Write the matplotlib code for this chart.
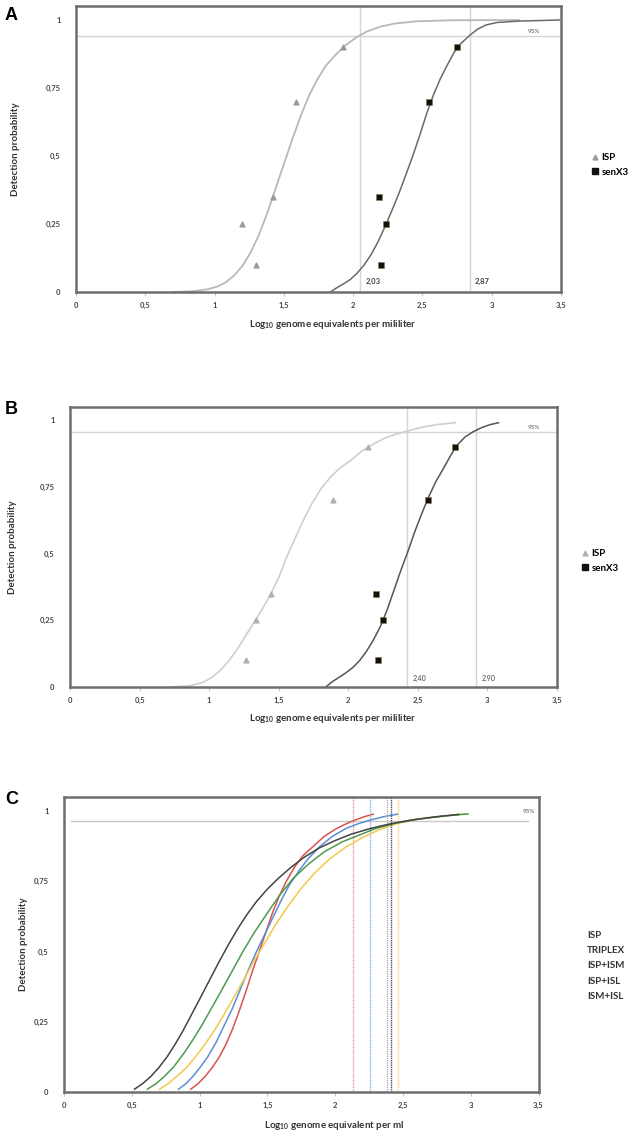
import matplotlib.pyplot as plt
from matplotlib.lines import Line2D

plt.rcParams['font.family'] = ['Lato', 'DejaVu Sans']
plt.rcParams['mathtext.fontset'] = 'custom'
plt.rcParams['mathtext.rm'] = 'Lato'
plt.rcParams['mathtext.bf'] = 'Lato:bold'

# ticks shared by the three panels
x_ticks = [0, 0.5, 1, 1.5, 2, 2.5, 3, 3.5]
x_tick_labels = ['0', '0,5', '1', '1,5', '2', '2,5', '3', '3,5']
y_ticks = [0, 0.25, 0.5, 0.75, 1]
y_tick_labels = ['0', '0,25', '0,5', '0,75', '1']

# Panel A - observed points
a_isp_pts_x = [1.20, 1.30, 1.42, 1.59, 1.93]
a_isp_pts_y = [0.25, 0.10, 0.35, 0.70, 0.90]
a_sen_pts_x = [2.20, 2.19, 2.24, 2.55, 2.75]
a_sen_pts_y = [0.10, 0.35, 0.25, 0.70, 0.90]
# Panel A - fitted curves
a_isp_curve_x = [0.70, 0.85, 0.95, 1.02, 1.08, 1.14, 1.20, 1.26, 1.32, 1.38, 1.44, 1.50, 1.56,
                 1.62, 1.68, 1.74, 1.80, 1.87, 1.94, 2.02, 2.10, 2.20, 2.30, 2.45, 2.70, 3.20]
a_isp_curve_y = [0.0, 0.003, 0.01, 0.02, 0.035, 0.06, 0.095, 0.145, 0.21, 0.29, 0.38, 0.47, 0.56,
                 0.645, 0.72, 0.78, 0.83, 0.87, 0.905, 0.935, 0.958, 0.976, 0.987, 0.995, 0.999, 1.0]
a_sen_curve_x = [1.836, 1.88, 1.93, 1.98, 2.03, 2.08, 2.13, 2.18, 2.23, 2.28, 2.33, 2.38, 2.43,
                 2.48, 2.53, 2.58, 2.63, 2.68, 2.73, 2.78, 2.84, 2.90, 2.96, 3.04, 3.20, 3.49]
a_sen_curve_y = [0.0, 0.015, 0.03, 0.046, 0.07, 0.10, 0.138, 0.185, 0.24, 0.30, 0.362, 0.43, 0.50,
                 0.575, 0.655, 0.725, 0.785, 0.835, 0.882, 0.915, 0.943, 0.967, 0.982, 0.991,
                 0.996, 1.0]
a_lod = [2.05, 2.84]
a_lod_labels = ['2,03', '2,87']
a_line95 = 0.94

# Panel B
b_isp_pts_x = [1.265, 1.337, 1.445, 1.888, 2.14]
b_isp_pts_y = [0.10, 0.25, 0.35, 0.70, 0.90]
b_sen_pts_x = [2.21, 2.20, 2.25, 2.57, 2.77]
b_sen_pts_y = [0.10, 0.35, 0.25, 0.70, 0.90]
b_isp_curve_x = [0.73, 0.85, 0.95, 1.02, 1.08, 1.14, 1.20, 1.26, 1.32, 1.38, 1.44, 1.50, 1.56,
                 1.62, 1.68, 1.74, 1.80, 1.87, 1.94, 2.02, 2.10, 2.18, 2.26, 2.34, 2.42, 2.52,
                 2.64, 2.77]
b_isp_curve_y = [0.0, 0.004, 0.016, 0.036, 0.062, 0.097, 0.14, 0.19, 0.24, 0.29, 0.345, 0.41, 0.49,
                 0.56, 0.628, 0.688, 0.74, 0.785, 0.82, 0.85, 0.885, 0.91, 0.932, 0.947, 0.958,
                 0.972, 0.983, 0.99]
b_sen_curve_x = [1.838, 1.88, 1.93, 1.98, 2.03, 2.08, 2.13, 2.18, 2.23, 2.28, 2.33, 2.38, 2.43,
                 2.48, 2.53, 2.58, 2.63, 2.68, 2.73, 2.78, 2.84, 2.90, 2.96, 3.02, 3.08]
b_sen_curve_y = [0.0, 0.018, 0.035, 0.052, 0.072, 0.098, 0.133, 0.176, 0.226, 0.29, 0.365, 0.44,
                 0.51, 0.585, 0.652, 0.715, 0.77, 0.815, 0.862, 0.905, 0.937, 0.957, 0.972,
                 0.983, 0.99]
b_lod = [2.42, 2.92]
b_lod_labels = ['2,40', '2,90']
b_line95 = 0.955

# Panel C - five fitted curves
c_names = ['ISP', 'TRIPLEX', 'ISP+ISM', 'ISP+ISL', 'ISM+ISL']
c_red_x = [0.935, 0.99, 1.04, 1.09, 1.14, 1.19, 1.24, 1.29, 1.34, 1.39, 1.44, 1.49, 1.54, 1.59,
           1.64, 1.70, 1.76, 1.84, 1.92, 2.00, 2.07, 2.135, 2.21, 2.28]
c_red_y = [0.01, 0.03, 0.055, 0.085, 0.12, 0.165, 0.22, 0.285, 0.355, 0.43, 0.50, 0.57, 0.64, 0.70,
           0.75, 0.80, 0.84, 0.875, 0.91, 0.935, 0.952, 0.966, 0.979, 0.989]
c_blue_x = [0.845, 0.90, 0.95, 1.00, 1.06, 1.12, 1.18, 1.24, 1.30, 1.36, 1.42, 1.48, 1.54, 1.60,
            1.66, 1.73, 1.80, 1.89, 1.98, 2.08, 2.17, 2.26, 2.36, 2.46]
c_blue_y = [0.01, 0.03, 0.055, 0.085, 0.125, 0.175, 0.235, 0.295, 0.365, 0.435, 0.50, 0.56, 0.62,
            0.68, 0.735, 0.785, 0.83, 0.875, 0.91, 0.938, 0.955, 0.968, 0.98, 0.989]
c_yellow_x = [0.705, 0.77, 0.83, 0.90, 0.97, 1.04, 1.11, 1.18, 1.25, 1.32, 1.40, 1.48, 1.56, 1.65,
              1.75, 1.85, 1.96, 2.08, 2.20, 2.33, 2.465, 2.60, 2.75, 2.96]
c_yellow_y = [0.01, 0.03, 0.055, 0.085, 0.125, 0.17, 0.22, 0.275, 0.335, 0.395, 0.465, 0.53, 0.595,
              0.66, 0.725, 0.78, 0.83, 0.872, 0.905, 0.935, 0.957, 0.97, 0.98, 0.99]
c_green_x = [0.615, 0.68, 0.74, 0.81, 0.88, 0.95, 1.02, 1.09, 1.16, 1.24, 1.32, 1.40, 1.49, 1.59,
             1.69, 1.80, 1.92, 2.05, 2.18, 2.30, 2.43, 2.60, 2.80, 2.98]
c_green_y = [0.01, 0.03, 0.055, 0.09, 0.135, 0.185, 0.24, 0.30, 0.36, 0.43, 0.50, 0.565, 0.63, 0.70,
             0.76, 0.81, 0.855, 0.89, 0.915, 0.938, 0.955, 0.97, 0.982, 0.99]
c_black_x = [0.52, 0.58, 0.64, 0.70, 0.76, 0.82, 0.88, 0.94, 1.00, 1.07, 1.14, 1.21, 1.28, 1.35,
             1.42, 1.50, 1.58, 1.67, 1.77, 1.88, 2.00, 2.12, 2.26, 2.41, 2.56, 2.73, 2.91]
c_black_y = [0.01, 0.03, 0.055, 0.087, 0.125, 0.17, 0.22, 0.275, 0.33, 0.395, 0.46, 0.522, 0.58,
             0.632, 0.678, 0.722, 0.76, 0.798, 0.835, 0.868, 0.895, 0.918, 0.938, 0.955, 0.968,
             0.979, 0.988]
c_lod = [2.135, 2.26, 2.465, 2.385, 2.41]
c_line95 = 0.965

fig = plt.figure(figsize=(6.34, 11.41), dpi=100)
W, H = 634, 1141


def make_axes(left, right, top, bottom):
    return fig.add_axes([left / W, 1 - bottom / H, (right - left) / W, (bottom - top) / H])


def style_axes(ax, ylab_x, xlab_x, xlabel):
    ax.set_xlim(0, 3.5)
    ax.set_ylim(0, 1.05)
    ax.set_xticks(x_ticks)
    ax.set_xticklabels(x_tick_labels)
    ax.set_yticks(y_ticks)
    ax.set_yticklabels(y_tick_labels)
    for s in ax.spines.values():
        s.set_color('#6e6e6e')
        s.set_linewidth(1.8)
    ax.tick_params(axis='x', length=3, width=0.8, color='#c8c8c8', pad=4,
                   labelsize=5.5, labelcolor='#444444')
    ax.tick_params(axis='y', length=0, pad=11, labelsize=5.5, labelcolor='#444444')
    for t in ax.get_xticklabels() + ax.get_yticklabels():
        t.set_fontweight('bold')
    ax.set_ylabel('Detection probability', fontsize=7, fontweight='bold', color='#333333')
    ax.yaxis.set_label_coords(ylab_x, 0.5)
    ax.set_xlabel(xlabel, fontsize=7, fontweight='bold', color='#333333')
    ax.xaxis.set_label_coords(xlab_x, -0.09)


xlab_ml = r'Log$_{\mathbf{10}}$ genome equivalents per mililiter'

# ---------- A ----------
axA = make_axes(76, 561, 6.4, 292)
style_axes(axA, -0.115, 0.53, xlab_ml)
axA.axhline(a_line95, color='#d4d4d4', lw=1)
for v in a_lod:
    axA.axvline(v, color='#d4d4d4', lw=1)
axA.plot(a_isp_curve_x, a_isp_curve_y, color='#b8b8b8', lw=1.3)
axA.plot(a_sen_curve_x, a_sen_curve_y, color='#6a6a6a', lw=1.1)
axA.scatter(a_isp_pts_x, a_isp_pts_y, marker='^', s=12, color='#9a9a9a', zorder=3)
axA.scatter(a_sen_pts_x, a_sen_pts_y, marker='s', s=18, color='#111111',
            edgecolor='#8a7a40', linewidth=0.4, zorder=3)
for v, lab in zip(a_lod, a_lod_labels):
    axA.text(v + 0.04, 0.025, lab, fontsize=5.5, fontweight='bold', color='#444444', va='bottom')
axA.text(3.3, a_line95 + 0.008, '95%', fontsize=4.5, color='#555555', ha='center', va='bottom')
axA.legend(handles=[Line2D([], [], marker='^', ls='none', color='#9a9a9a', markersize=3.5),
                    Line2D([], [], marker='s', ls='none', color='#111111', markersize=4)],
           labels=['ISP', 'senX3'], loc='center left', bbox_to_anchor=(583 / W, 1 - 165 / H),
           bbox_transform=fig.transFigure, frameon=False, handlelength=0.6,
           handletextpad=0.4, labelspacing=0.55, prop={'weight': 'bold', 'size': 7})
fig.text(5 / W, 1 - 16 / H, 'A', fontsize=13, fontweight='bold', family='Liberation Sans',
         va='center')

# ---------- B ----------
axB = make_axes(70, 557, 406.7, 687)
style_axes(axB, -0.108, 0.54, xlab_ml)
axB.axhline(b_line95, color='#d4d4d4', lw=1)
for v in b_lod:
    axB.axvline(v, color='#d4d4d4', lw=1)
axB.plot(b_isp_curve_x, b_isp_curve_y, color='#cfcfcf', lw=1.2)
axB.plot(b_sen_curve_x, b_sen_curve_y, color='#555555', lw=1.1)
axB.scatter(b_isp_pts_x, b_isp_pts_y, marker='^', s=12, color='#b0b0b0', zorder=3)
axB.scatter(b_sen_pts_x, b_sen_pts_y, marker='s', s=18, color='#111111',
            edgecolor='#8a7a40', linewidth=0.4, zorder=3)
for v, lab in zip(b_lod, b_lod_labels):
    axB.text(v + 0.04, 0.02, lab, fontsize=5, color='#444444', va='bottom')
axB.text(3.33, b_line95 + 0.008, '95%', fontsize=4.5, color='#555555', ha='center', va='bottom')
axB.legend(handles=[Line2D([], [], marker='^', ls='none', color='#b0b0b0', markersize=3.5),
                    Line2D([], [], marker='s', ls='none', color='#111111', markersize=4)],
           labels=['ISP', 'senX3'], loc='center left', bbox_to_anchor=(573 / W, 1 - 561 / H),
           bbox_transform=fig.transFigure, frameon=False, handlelength=0.6,
           handletextpad=0.4, labelspacing=0.55, prop={'weight': 'bold', 'size': 7})
fig.text(5 / W, 1 - 410 / H, 'B', fontsize=13, fontweight='bold', family='Liberation Sans',
         va='center')

# ---------- C ----------
axC = make_axes(64, 538.5, 797, 1092)
style_axes(axC, -0.075, 0.57, r'Log$_{\mathbf{10}}$ genome equivalent per ml')
axC.plot([0.05, 3.42], [c_line95, c_line95], color='#c8c8c8', lw=1)
c_cols = ['#d9534f', '#5b8ed6', '#f2c84b', '#4e9a4e', '#444444']
c_vcols = ['#e39a9a', '#8fb0e0', '#f2d27e', '#b8b8b8', '#555555']
c_xs = [c_red_x, c_blue_x, c_yellow_x, c_green_x, c_black_x]
c_ys = [c_red_y, c_blue_y, c_yellow_y, c_green_y, c_black_y]
for xs, ys, col, v, vcol in zip(c_xs, c_ys, c_cols, c_lod, c_vcols):
    axC.axvline(v, color=vcol, lw=1, ls=(0, (1, 0.6)))
    axC.plot(xs, ys, color=col, lw=1.1)
axC.text(3.43, 0.99, '95%', fontsize=4.5, color='#555555', ha='center', va='bottom')
axC.legend(handles=[Line2D([], [], color='none') for _ in c_names], labels=c_names,
           loc='center left', bbox_to_anchor=(578 / W, 1 - 966 / H),
           bbox_transform=fig.transFigure, frameon=False, handlelength=0, handletextpad=0,
           labelspacing=0.62, prop={'weight': 'bold', 'size': 7}, labelcolor='#333333')
fig.text(5 / W, 1 - 800 / H, 'C', fontsize=13, fontweight='bold', family='Liberation Sans',
         va='center')

fig.savefig('out.png', dpi=100, facecolor='white')
